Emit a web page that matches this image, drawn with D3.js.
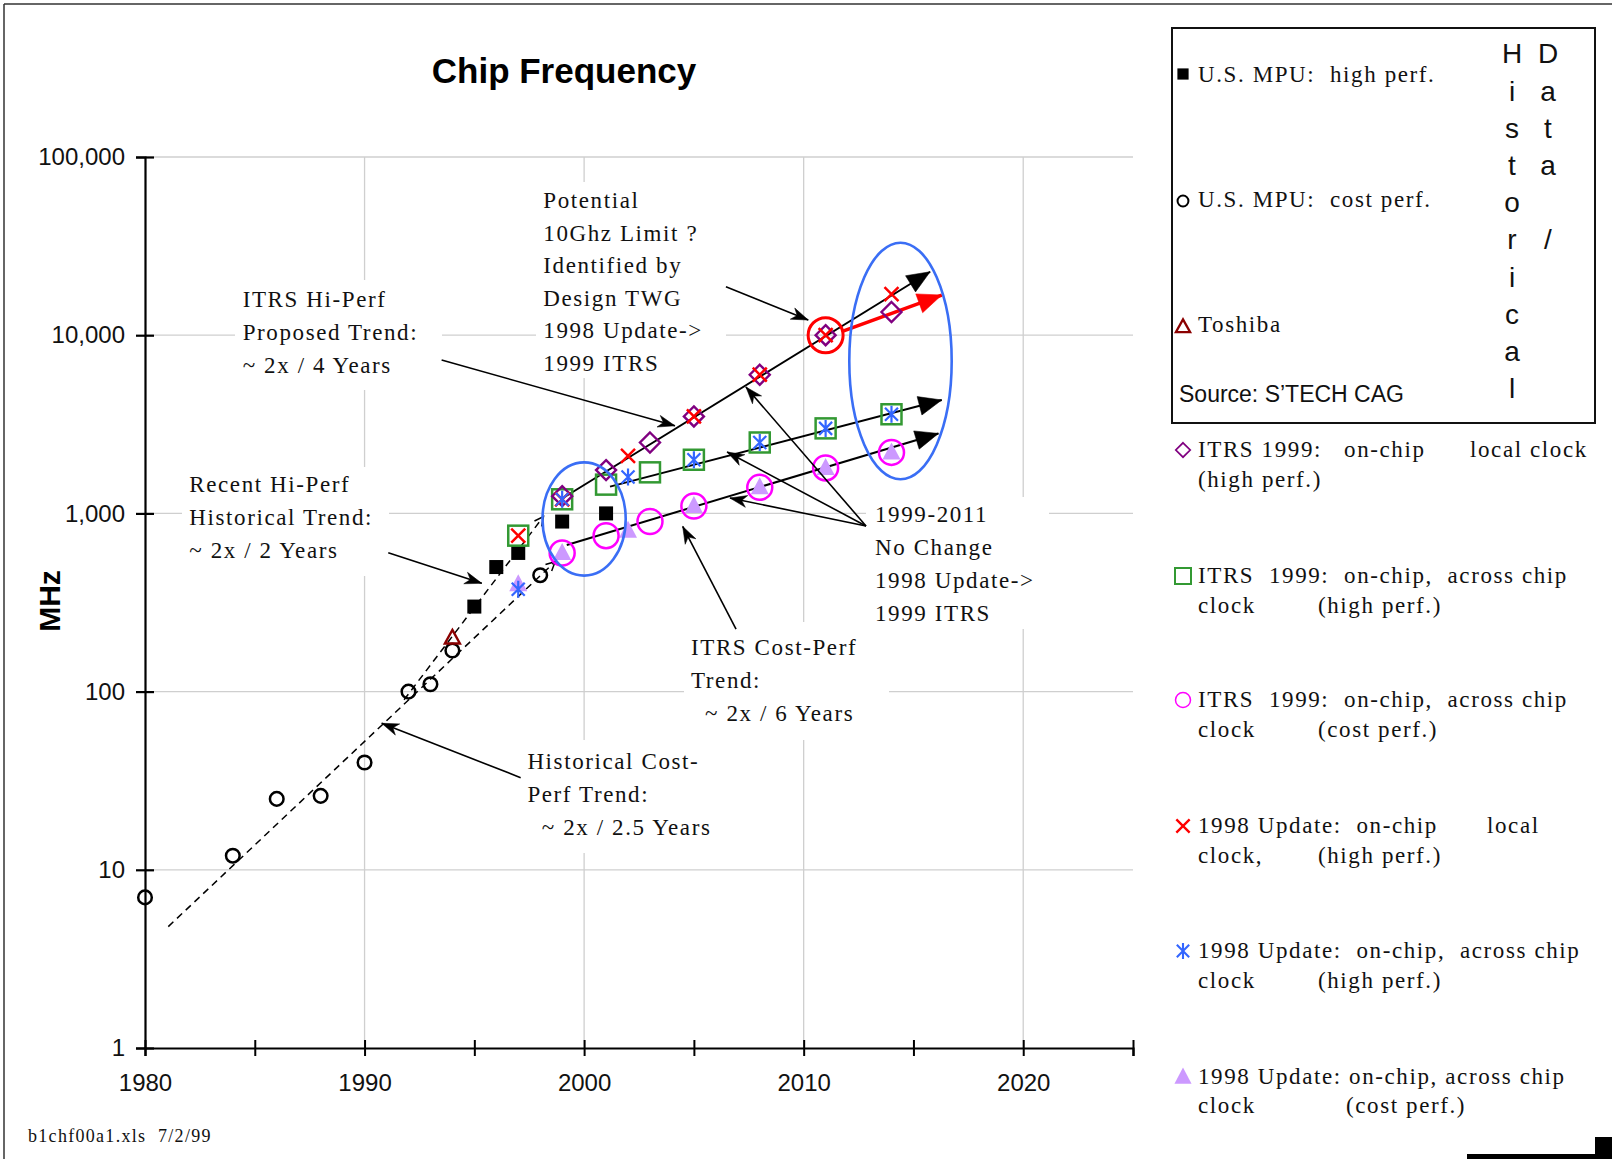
<!DOCTYPE html>
<html>
<head>
<meta charset="utf-8">
<script src="https://cdn.jsdelivr.net/npm/d3@7"></script>
<style>
  body { margin: 0; background: #fff; }
  svg { display: block; }
  .serif { font-family: "Liberation Serif", "Times New Roman", serif; font-size: 23px; letter-spacing: 1.6px; white-space: pre; fill: #111; }
</style>
</head>
<body>
<div id="chart-container"></div>
<script>
// ---- data (years, MHz) ----
const usHighYears = [1995, 1996, 1997, 1999, 2001]
const usHighMHz = [300, 500, 600, 900, 1000]
const usCostYears = [1980, 1984, 1986, 1988, 1990, 1992, 1993, 1994, 1998]
const usCostMHz = [7, 12, 25, 26, 40, 100, 110, 170, 450]
const toshibaYears = [1994]
const toshibaMHz = [200]
const itrsLocalYears = [1999, 2001, 2003, 2005, 2008, 2011, 2014]
const itrsLocalMHz = [1250, 1750, 2500, 3500, 6000, 10000, 13500]
const itrsAcrossYears = [1997, 1999, 2001, 2003, 2005, 2008, 2011, 2014]
const itrsAcrossMHz = [750, 1200, 1450, 1700, 2000, 2500, 3000, 3600]
const itrsCostYears = [1999, 2001, 2003, 2005, 2008, 2011, 2014]
const itrsCostMHz = [600, 750, 900, 1100, 1400, 1800, 2200]
const upd98LocalYears = [1997, 1999, 2002, 2005, 2008, 2011, 2014]
const upd98LocalMHz = [750, 1200, 2100, 3500, 6000, 10000, 17000]
const upd98AcrossYears = [1997, 1999, 2002, 2005, 2008, 2011, 2014]
const upd98AcrossMHz = [375, 1200, 1600, 2000, 2500, 3000, 3600]
const upd98CostYears = [1997, 1999, 2002, 2005, 2008, 2011, 2014]
const upd98CostMHz = [400, 600, 800, 1100, 1400, 1800, 2200]

// trend lines [year, MHz] start -> end
const trendLocal = [[1999.13, 1240], [2015.76, 22700]]
const trendRed = [[2011.73, 10470], [2016.29, 16800]]
const trendAcross = [[2001.18, 1413], [2016.29, 4330]]
const trendCost = [[1999.21, 665], [2016.14, 2810]]
const dashHigh = [[1991.8, 90], [1998.15, 960]]
const dashCost = [[1981.06, 4.8], [1998.68, 536]]

const yTicks = [1, 10, 100, 1000, 10000, 100000]
const xTicks = d3.range(1980, 2026, 5)
const xGrid = [1990, 2000, 2010, 2020]

// ---- layout ----
const W = 1612, H = 1159
const x = d3.scaleLinear().domain([1980, 2025]).range([145, 1133])
const y = d3.scaleLog().domain([1, 100000]).range([1048, 157])

const svg = d3.select('#chart-container').append('svg')
  .attr('width', W)
  .attr('height', H)

// page frame (top + left edge)
svg.append('line').attr('x1', 4).attr('y1', 4).attr('x2', W).attr('y2', 4)
  .attr('stroke', '#333').attr('stroke-width', 1.5)
svg.append('line').attr('x1', 4).attr('y1', 4).attr('x2', 4).attr('y2', H)
  .attr('stroke', '#333').attr('stroke-width', 1.5)

const defs = svg.append('defs')
function arrowMarker (id, d, color, open) {
  defs.append('marker')
    .attr('id', id)
    .attr('markerUnits', 'userSpaceOnUse')
    .attr('viewBox', '-30 -15 40 30')
    .attr('markerWidth', 40).attr('markerHeight', 30)
    .attr('refX', 0).attr('refY', 0)
    .attr('orient', 'auto')
    .append('path')
    .attr('d', d)
    .attr('fill', open ? 'none' : color)
    .attr('stroke', color)
    .attr('stroke-width', open ? 1.5 : 0.5)
}
arrowMarker('big', 'M0,0 L-23,-9.5 L-23,9.5 Z', '#000')
arrowMarker('bigRed', 'M0,0 L-24,-10 L-24,10 Z', '#f00')
arrowMarker('thin', 'M0,0 L-17,-6 L-12,0 L-17,6 Z', '#000')
arrowMarker('open', 'M-9,-4.5 L0,0 L-9,4.5', '#000', true)

// gridlines
svg.append('g').selectAll('line').data(yTicks.slice(1)).join('line')
  .attr('x1', x(1980)).attr('x2', x(2025))
  .attr('y1', d => y(d)).attr('y2', d => y(d))
  .attr('stroke', '#cfcfcf').attr('stroke-width', 1.3)
svg.append('g').selectAll('line').data(xGrid).join('line')
  .attr('x1', d => x(d)).attr('x2', d => x(d))
  .attr('y1', y(100000)).attr('y2', y(1))
  .attr('stroke', '#cfcfcf').attr('stroke-width', 1.3)

// annotation text boxes (white, hide gridlines)
const notes = [
  { box: [235, 280, 442, 390], x: 242.7, lines: [['ITRS Hi-Perf', 0, 306.7], ['Proposed Trend:', 0, 340], ['~ 2x / 4 Years', 0, 373.3]] },
  { box: [182, 467, 389, 576], x: 189.3, lines: [['Recent Hi-Perf', 0, 491.7], ['Historical Trend:', 0, 525], ['~ 2x / 2 Years', 0, 558.3]] },
  { box: [536, 182, 726, 378], x: 543.3, lines: [['Potential', 0, 208.3], ['10Ghz Limit ?', 0, 240.8], ['Identified by', 0, 273.3], ['Design TWG', 0, 305.8], ['1998 Update->', 0, 338.3], ['1999 ITRS', 0, 370.8]] },
  { box: [866, 497, 1049, 629], x: 875, lines: [['1999-2011', 0, 522], ['No Change', 0, 555], ['1998 Update->', 0, 588], ['1999 ITRS', 0, 621]] },
  { box: [684, 622, 889, 740], x: 691, lines: [['ITRS Cost-Perf', 0, 655], ['Trend:', 0, 688], ['~ 2x / 6 Years', 14, 721]] },
  { box: [520, 740, 720, 853], x: 527.4, lines: [['Historical Cost-', 0, 769], ['Perf Trend:', 0, 802], ['~ 2x / 2.5 Years', 14.4, 835]] }
]
notes.forEach(n => {
  svg.append('rect')
    .attr('x', n.box[0]).attr('y', n.box[1])
    .attr('width', n.box[2] - n.box[0]).attr('height', n.box[3] - n.box[1])
    .attr('fill', '#fff')
  n.lines.forEach(([t, dx, by]) => {
    svg.append('text').attr('class', 'serif')
      .attr('x', n.x + dx).attr('y', by).text(t)
  })
})

// axes
const yAxis = d3.axisLeft(y).tickValues(yTicks).tickFormat(d3.format(',')).tickSize(9).tickPadding(11)
const gy = svg.append('g').attr('transform', 'translate(' + x(1980) + ',0)').call(yAxis)
gy.select('.domain').attr('stroke', '#000').attr('stroke-width', 2.2)
gy.selectAll('.tick line').attr('x1', 9).attr('stroke-width', 2.2)
gy.selectAll('.tick text').attr('font-family', 'Arial, "Liberation Sans", sans-serif')
  .attr('font-size', 24).attr('fill', '#111')

const xAxis = d3.axisBottom(x).tickValues(xTicks)
  .tickFormat(d => d % 10 === 0 ? d : '').tickSize(8)
const gx = svg.append('g').attr('transform', 'translate(0,' + y(1) + ')').call(xAxis)
gx.select('.domain').attr('stroke', '#000').attr('stroke-width', 2.2)
gx.selectAll('.tick line').attr('y1', -8).attr('stroke-width', 2)
gx.selectAll('.tick text').attr('font-family', 'Arial, "Liberation Sans", sans-serif')
  .attr('font-size', 24).attr('fill', '#111').attr('y', 26)

svg.append('text')
  .attr('x', 564).attr('y', 82.5)
  .attr('text-anchor', 'middle')
  .attr('font-family', 'Arial, "Liberation Sans", sans-serif')
  .attr('font-weight', 'bold').attr('font-size', 35)
  .text('Chip Frequency')

svg.append('text')
  .attr('transform', 'translate(60,601) rotate(-90)')
  .attr('text-anchor', 'middle')
  .attr('font-family', 'Arial, "Liberation Sans", sans-serif')
  .attr('font-weight', 'bold').attr('font-size', 30)
  .text('MHz')

// trend lines
const line = d3.line().x(d => x(d[0])).y(d => y(d[1]))
svg.append('path').datum(dashCost).attr('d', line)
  .attr('stroke', '#000').attr('stroke-width', 1.5).attr('fill', 'none')
  .attr('stroke-dasharray', '7,5').attr('marker-end', 'url(#open)')
svg.append('path').datum(dashHigh).attr('d', line)
  .attr('stroke', '#000').attr('stroke-width', 1.5).attr('fill', 'none')
  .attr('stroke-dasharray', '7,5').attr('marker-end', 'url(#open)')
;[trendLocal, trendAcross, trendCost].forEach(t => {
  svg.append('path').datum(t).attr('d', line)
    .attr('stroke', '#000').attr('stroke-width', 2).attr('fill', 'none')
    .attr('marker-end', 'url(#big)')
})
svg.append('path').datum(trendRed).attr('d', line)
  .attr('stroke', '#f00').attr('stroke-width', 3.5).attr('fill', 'none')
  .attr('marker-end', 'url(#bigRed)')

// markers
const zip = (xs, vs) => xs.map((d, i) => [d, vs[i]])
function drawSeries (pts, kind) {
  pts.forEach(([yr, v]) => drawMarker(svg, x(yr), y(v), kind))
}
function drawMarker (g, cx, cy, kind) {
  if (kind === 'blackSquare') {
    g.append('rect').attr('x', cx - 7).attr('y', cy - 7).attr('width', 14).attr('height', 14).attr('fill', '#000')
  } else if (kind === 'blackCircle') {
    g.append('circle').attr('cx', cx).attr('cy', cy).attr('r', 6.8).attr('fill', 'none').attr('stroke', '#000').attr('stroke-width', 2.5)
  } else if (kind === 'toshiba') {
    g.append('path').attr('d', `M${cx},${cy - 8} L${cx + 7.5},${cy + 5.5} L${cx - 7.5},${cy + 5.5} Z`)
      .attr('fill', 'none').attr('stroke', '#8b0000').attr('stroke-width', 2.4)
  } else if (kind === 'diamond') {
    g.append('path').attr('d', `M${cx},${cy - 10} L${cx + 10},${cy} L${cx},${cy + 10} L${cx - 10},${cy} Z`)
      .attr('fill', 'none').attr('stroke', '#800080').attr('stroke-width', 2.4)
  } else if (kind === 'greenSquare') {
    g.append('rect').attr('x', cx - 10).attr('y', cy - 10).attr('width', 20).attr('height', 20)
      .attr('fill', 'none').attr('stroke', '#339933').attr('stroke-width', 2.5)
  } else if (kind === 'magentaCircle') {
    g.append('circle').attr('cx', cx).attr('cy', cy).attr('r', 12.5)
      .attr('fill', 'none').attr('stroke', '#ff00ff').attr('stroke-width', 2.5)
  } else if (kind === 'redX') {
    g.append('path').attr('d', `M${cx - 7},${cy - 7} L${cx + 7},${cy + 7} M${cx - 7},${cy + 7} L${cx + 7},${cy - 7}`)
      .attr('stroke', '#ff0000').attr('stroke-width', 2.5)
  } else if (kind === 'asterisk') {
    g.append('path').attr('d', `M${cx},${cy - 8.5} L${cx},${cy + 8.5} M${cx - 6.5},${cy - 6.5} L${cx + 6.5},${cy + 6.5} M${cx - 6.5},${cy + 6.5} L${cx + 6.5},${cy - 6.5}`)
      .attr('stroke', '#3366ff').attr('stroke-width', 2.2)
  } else if (kind === 'lilacTri') {
    g.append('path').attr('d', `M${cx},${cy - 10} L${cx + 9},${cy + 7} L${cx - 9},${cy + 7} Z`)
      .attr('fill', '#cc99ff')
  }
}
drawSeries(zip(usCostYears, usCostMHz), 'blackCircle')
drawSeries(zip(usHighYears, usHighMHz), 'blackSquare')
drawSeries(zip(toshibaYears, toshibaMHz), 'toshiba')
drawSeries(zip(upd98CostYears, upd98CostMHz), 'lilacTri')
drawSeries(zip(itrsCostYears, itrsCostMHz), 'magentaCircle')
drawSeries(zip(itrsAcrossYears, itrsAcrossMHz), 'greenSquare')
drawSeries(zip(itrsLocalYears, itrsLocalMHz), 'diamond')
drawSeries(zip(upd98LocalYears, upd98LocalMHz), 'redX')
drawSeries(zip(upd98AcrossYears, upd98AcrossMHz), 'asterisk')

// annotation arrows [year, MHz]
const callouts = [
  [[1993.51, 7260], [2004.14, 3100]],
  [[2006.46, 18700], [2010.21, 12170]],
  [[2012.84, 850], [2007.37, 5120]],
  [[2012.84, 850], [2006.51, 2212]],
  [[2012.84, 850], [2006.64, 1220]],
  [[2006.92, 224], [2004.49, 845]],
  [[1991.08, 602], [1995.34, 405]],
  [[1997.11, 32.9], [1990.78, 66.4]]
]
callouts.forEach(c => {
  svg.append('path').datum(c).attr('d', line)
    .attr('stroke', '#000').attr('stroke-width', 1.6).attr('fill', 'none')
    .attr('marker-end', 'url(#thin)')
})

// highlight rings
svg.append('circle').attr('cx', x(2011)).attr('cy', y(10000)).attr('r', 17.5)
  .attr('fill', 'none').attr('stroke', '#f00').attr('stroke-width', 3)
svg.append('ellipse').attr('cx', x(2000)).attr('cy', y(930)).attr('rx', 41.6).attr('ry', 56.6)
  .attr('fill', 'none').attr('stroke', '#3a6ef5').attr('stroke-width', 2.6)
svg.append('ellipse').attr('cx', x(2014.41)).attr('cy', y(7165)).attr('rx', 51.2).attr('ry', 118.3)
  .attr('fill', 'none').attr('stroke', '#3a6ef5').attr('stroke-width', 2.6)

// ---- legend ----
svg.append('rect').attr('x', 1172).attr('y', 28).attr('width', 423).attr('height', 395)
  .attr('fill', 'none').attr('stroke', '#111').attr('stroke-width', 2)

// each text line: [baseline, [text, x], [text, x] ...]
const legendItems = [
  { kind: 'blackSquare', my: 74, lines: [[82, ['U.S. MPU:  high perf.', 1198]]] },
  { kind: 'blackCircle', my: 201, lines: [[207, ['U.S. MPU:  cost perf.', 1198]]] },
  { kind: 'toshiba', my: 327, lines: [[332, ['Toshiba', 1198]]] },
  { kind: 'diamond', my: 450, lines: [[456.7, ['ITRS 1999:   on-chip', 1198], ['local clock', 1470]], [487, ['(high perf.)', 1198]]] },
  { kind: 'greenSquare', my: 576, lines: [[582.7, ['ITRS  1999:  on-chip,  across chip', 1198]], [612.7, ['clock', 1198], ['(high perf.)', 1318]]] },
  { kind: 'magentaCircle', my: 700, lines: [[707, ['ITRS  1999:  on-chip,  across chip', 1198]], [737, ['clock', 1198], ['(cost perf.)', 1318]]] },
  { kind: 'redX', my: 826, lines: [[832.7, ['1998 Update:  on-chip', 1198], ['local', 1487]], [862.7, ['clock,', 1198], ['(high perf.)', 1318]]] },
  { kind: 'asterisk', my: 951, lines: [[957.7, ['1998 Update:  on-chip,  across chip', 1198]], [988, ['clock', 1198], ['(high perf.)', 1318]]] },
  { kind: 'lilacTri', my: 1077, lines: [[1084, ['1998 Update: on-chip, across chip', 1198]], [1113, ['clock', 1198], ['(cost perf.)', 1346]]] }
]
const legendScale = { blackSquare: 0.8, blackCircle: 0.8, toshiba: 0.95, diamond: 0.72, greenSquare: 0.8, magentaCircle: 0.6, redX: 0.95, asterisk: 0.95, lilacTri: 0.95 }
legendItems.forEach(item => {
  const g = svg.append('g')
    .attr('transform', `translate(1183,${item.my}) scale(${legendScale[item.kind]})`)
  drawMarker(g, 0, 0, item.kind)
  item.lines.forEach(([by, ...segs]) => {
    segs.forEach(([t, tx]) => {
      svg.append('text').attr('class', 'serif').attr('x', tx).attr('y', by).text(t)
    })
  })
})

svg.append('text').attr('x', 1179).attr('y', 402)
  .attr('font-family', 'Arial, "Liberation Sans", sans-serif').attr('font-size', 23)
  .attr('fill', '#111')
  .text('Source: S\u2019TECH CAG')

const vertCols = [['Historical', 1512], ['Data /', 1548]]
vertCols.forEach(([word, cx]) => {
  word.split('').forEach((ch, i) => {
    svg.append('text').attr('x', cx).attr('y', 63.3 + 37.2 * i)
      .attr('text-anchor', 'middle')
      .attr('font-family', 'Arial, "Liberation Sans", sans-serif').attr('font-size', 28)
      .attr('fill', '#111')
      .text(ch)
  })
})

// footer
svg.append('text').attr('class', 'serif').attr('x', 28).attr('y', 1142)
  .style('font-size', '18px').style('letter-spacing', '1.3px')
  .text('b1chf00a1.xls  7/2/99')

// scanner artifact bottom right
svg.append('rect').attr('x', 1467).attr('y', 1154).attr('width', W - 1467).attr('height', 5).attr('fill', '#000')
svg.append('rect').attr('x', 1595).attr('y', 1137).attr('width', W - 1595).attr('height', 22).attr('fill', '#000')
</script>
</body>
</html>
